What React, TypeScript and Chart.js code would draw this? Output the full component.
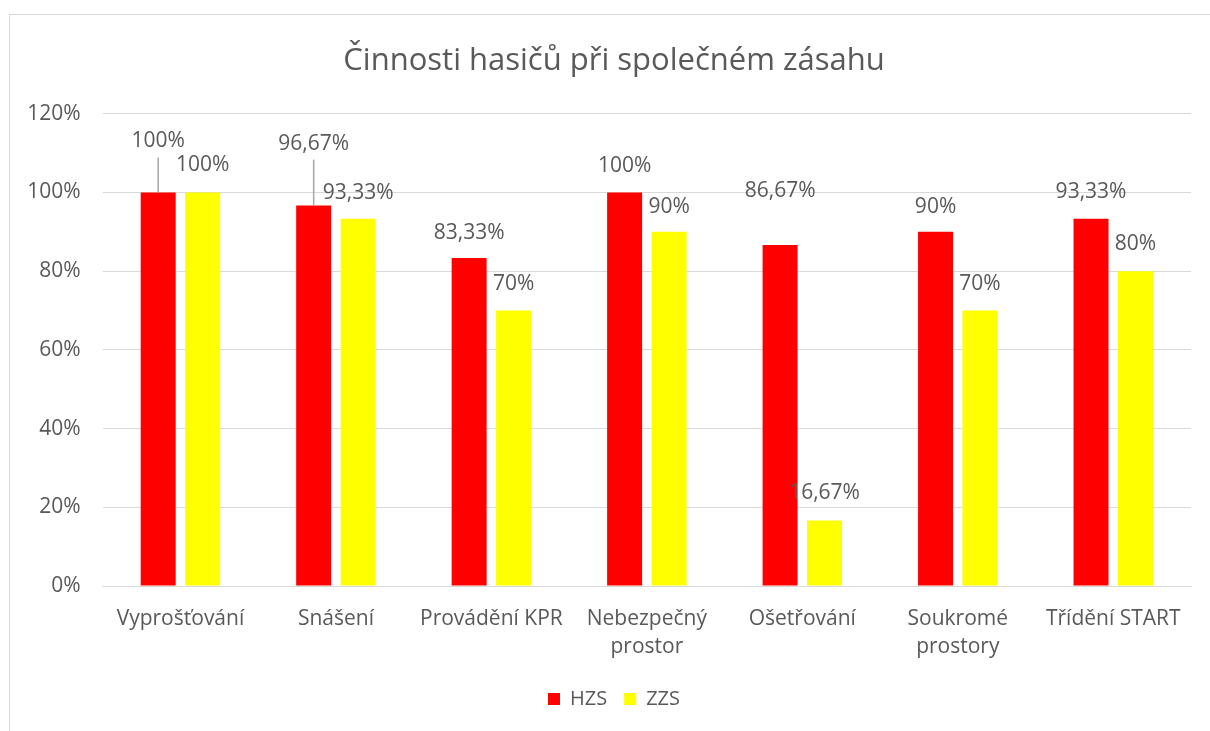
import React, { useEffect, useRef } from 'react';
import { Chart, registerables } from 'chart.js';

Chart.register(...registerables);

const chartTitle = 'Činnosti hasičů při společném zásahu';
const categories: string[][] = [
  ['Vyprošťování'],
  ['Snášení'],
  ['Provádění KPR'],
  ['Nebezpečný', 'prostor'],
  ['Ošetřování'],
  ['Soukromé', 'prostory'],
  ['Třídění START'],
];
const seriesNames = ['HZS', 'ZZS'];
const hzsValues = [100, 96.67, 83.33, 100, 86.67, 90, 93.33];
const zzsValues = [100, 93.33, 70, 90, 16.67, 70, 80];
const yTickValues = [0, 20, 40, 60, 80, 100, 120];

const TEXT = '#595959';
const FONT = '"Open Sans", "DejaVu Sans", sans-serif';

const fmt = (v: number) =>
  (Number.isInteger(v) ? String(v) : v.toFixed(2).replace('.', ',')) + '%';

const valueLabels = {
  id: 'valueLabels',
  afterDatasetsDraw(chart: any, _args: any, opts: any) {
    const ctx = chart.ctx;
    ctx.save();
    ctx.font = `${opts.size}px ${FONT}`;
    ctx.fillStyle = TEXT;
    ctx.textAlign = 'center';
    ctx.textBaseline = 'middle';
    chart.data.datasets.forEach((ds: any, di: number) => {
      const meta = chart.getDatasetMeta(di);
      meta.data.forEach((bar: any, i: number) => {
        const v = ds.data[i];
        const lift = opts.lifts[di][i];
        const ty = bar.y - lift;
        if (opts.leaders[di][i]) {
          ctx.strokeStyle = '#A6A6A6';
          ctx.lineWidth = 1.5;
          ctx.beginPath();
          ctx.moveTo(bar.x, ty + 16);
          ctx.lineTo(bar.x, bar.y);
          ctx.stroke();
        }
        ctx.fillText(fmt(v), bar.x, ty);
      });
    });
    ctx.restore();
  },
};

export default function App() {
  const ref = useRef<HTMLCanvasElement | null>(null);

  useEffect(() => {
    if (!ref.current) return;
    const chart = new Chart(ref.current, {
      type: 'bar',
      data: {
        labels: categories,
        datasets: [
          {
            label: seriesNames[0],
            data: hzsValues,
            backgroundColor: '#FF0000',
            borderWidth: 0,
            categoryPercentage: 0.572,
            barPercentage: 0.787,
          },
          {
            label: seriesNames[1],
            data: zzsValues,
            backgroundColor: '#FFFF00',
            borderWidth: 0,
            categoryPercentage: 0.572,
            barPercentage: 0.787,
          },
        ],
      },
      options: {
        animation: false,
        responsive: false,
        maintainAspectRatio: false,
        layout: { padding: { left: 8, right: 0, top: 0, bottom: 12 } },
        scales: {
          x: {
            grid: { display: false, drawTicks: false },
            border: { display: true, color: '#D9D9D9', width: 1 },
            ticks: {
              color: TEXT,
              font: { family: FONT, size: 21, lineHeight: 1.33 },
              padding: 19,
              maxRotation: 0,
              autoSkip: false,
            },
            afterFit: (s: any) => {
              s.height = 86;
            },
          },
          y: {
            min: 0,
            max: 120,
            afterBuildTicks: (s: any) => {
              s.ticks = yTickValues.map((v) => ({ value: v }));
            },
            grid: { color: '#D9D9D9', lineWidth: 1, drawTicks: false },
            border: { display: false },
            ticks: {
              color: TEXT,
              font: { family: FONT, size: 21 },
              padding: 22,
              callback: (v: any) => v + '%',
            },
            afterFit: (s: any) => {
              s.width = 84.7;
            },
          },
          y2: {
            position: 'right',
            display: true,
            grid: { display: false, drawTicks: false },
            border: { display: false },
            ticks: { display: false },
            afterFit: (s: any) => {
              s.width = 19;
            },
          },
        },
        plugins: {
          title: {
            display: true,
            text: chartTitle,
            color: TEXT,
            font: { family: FONT, size: 31, weight: 'normal', lineHeight: 1.2 },
            padding: { top: 27.4, bottom: 34.2 },
          },
          legend: {
            display: true,
            position: 'bottom',
            labels: {
              color: TEXT,
              font: { family: FONT, size: 20 },
              boxWidth: 12,
              boxHeight: 12,
              padding: 17,
            },
          },
          tooltip: { enabled: false },
          valueLabels: {
            size: 21,
            lifts: [
              [51, 62, 25, 26.5, 54, 25, 27],
              [27, 26, 27, 25, 27, 27, 27],
            ],
            leaders: [
              [true, true, false, false, false, false, false],
              [false, false, false, false, false, false, false],
            ],
          },
        } as any,
      },
      plugins: [valueLabels],
    } as any);
    return () => chart.destroy();
  }, []);

  return (
    <div
      style={{
        position: 'absolute',
        left: 9,
        top: 14,
        width: 1201,
        height: 717,
        boxSizing: 'border-box',
        borderTop: '1.5px solid #D9D9D9',
        borderLeft: '1.5px solid #D9D9D9',
        background: '#fff',
        overflow: 'hidden',
      }}
    >
      <canvas ref={ref} width={1200} height={716} style={{ display: 'block' }} />
    </div>
  );
}
